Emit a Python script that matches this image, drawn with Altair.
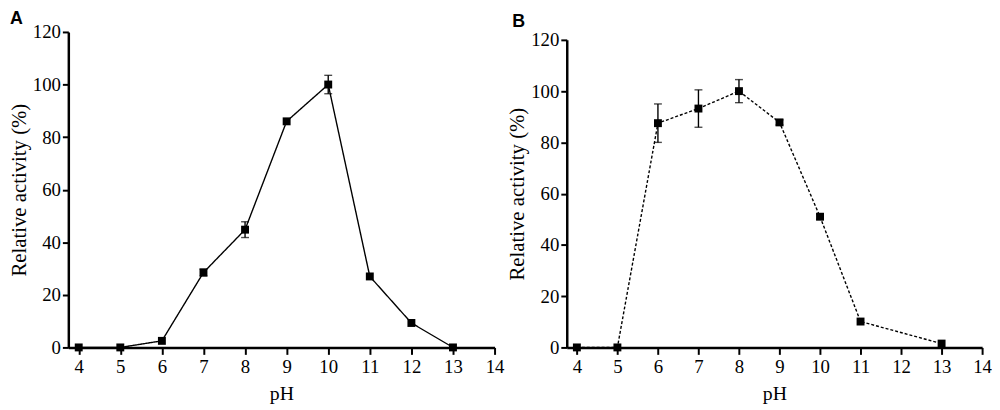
import altair as alt
import pandas as pd

ph_a = [4, 5, 6, 7, 8, 9, 10, 11, 12, 13]
act_a = [0, 0, 2.5, 28.5, 44.8, 86, 100, 27, 9.3, 0]
err_a = [0, 0, 0, 1.3, 3.0, 0.8, 3.5, 0.8, 0.6, 0]

ph_b = [4, 5, 6, 7, 8, 9, 10, 11, 13]
act_b = [0, 0, 87.5, 93.2, 100, 87.8, 51, 10.1, 1.5]
err_b = [0, 0, 7.5, 7.3, 4.5, 1.0, 1.0, 0.5, 0.5]

x_ticks = list(range(4, 15))
y_ticks = list(range(0, 121, 10))

SERIF = "Liberation Serif"
SANS = "Liberation Sans"
H = 319


def panel(ph, act, err, dash, w, top, letter, ydx, toff):
    df = pd.DataFrame({
        "ph": ph,
        "act": act,
        "lo": [a - e for a, e in zip(act, err)],
        "hi": [a + e for a, e in zip(act, err)],
        "err": err,
    })
    xs = alt.Scale(domain=[3.75, 14], nice=False, zero=False)
    ys = alt.Scale(domain=[0, 120], nice=False, range=[H, top])
    xax = alt.Axis(values=x_ticks, title="pH", labelFlush=False, labelOverlap=False,
                   tickSize=7, labelPadding=3, titlePadding=8,
                   labelFont=SERIF, titleFont=SERIF, labelFontSize=19, titleFontSize=20)
    yax = alt.Axis(values=y_ticks, title="Relative activity (%)",
                   labelExpr="datum.value % 20 === 0 ? datum.label : ''",
                   labelOverlap=False,
                   tickSize={"condition": {"test": "datum.value % 20 === 0", "value": 6}, "value": 3},
                   labelPadding=2, titlePadding=3,
                   labelFont=SERIF, titleFont=SERIF, labelFontSize=19, titleFontSize=21)
    x = alt.X("ph:Q", scale=xs, axis=xax)
    y = alt.Y("act:Q", scale=ys, axis=yax)
    base = alt.Chart(df)
    line = base.mark_line(color="black", strokeWidth=1.4, strokeDash=dash).encode(x=x, y=y)
    pts = base.mark_point(shape="square", filled=True, size=64, color="black", opacity=1).encode(x=x, y=y)
    errs = alt.Chart(df[df["err"] >= 1.0]).mark_errorbar(
        color="black", ticks={"size": 8, "thickness": 1.4}, rule={"strokeWidth": 1.4}
    ).encode(
        x=alt.X("ph:Q", scale=xs),
        y=alt.Y("lo:Q", scale=ys, title="Relative activity (%)"),
        y2="hi:Q",
    )
    return alt.layer(line, errs, pts).properties(
        width=w, height=H,
        title=alt.TitleParams(letter, anchor="start", frame="group", dx=ydx,
                              font=SANS, fontWeight="bold", fontSize=18,
                              offset=toff, color="black"),
    )


pa = panel(ph_a, act_a, err_a, [1, 0], 431, 0, "A", -59, -5)
pb = panel(ph_b, act_b, err_b, [3, 2], 420, 8, "B", -55, 0)

chart = alt.hconcat(pa, pb, spacing=2).properties(
    padding={"left": 0, "top": 0, "right": 0, "bottom": 0}
).configure_view(stroke=None).configure_axis(
    grid=False, domainColor="black", domainWidth=2.5, tickColor="black", tickWidth=2,
    labelColor="black", titleFontWeight="normal", titleColor="black",
)

chart.save("out.html", embed_options={"renderer": "svg", "actions": False})
